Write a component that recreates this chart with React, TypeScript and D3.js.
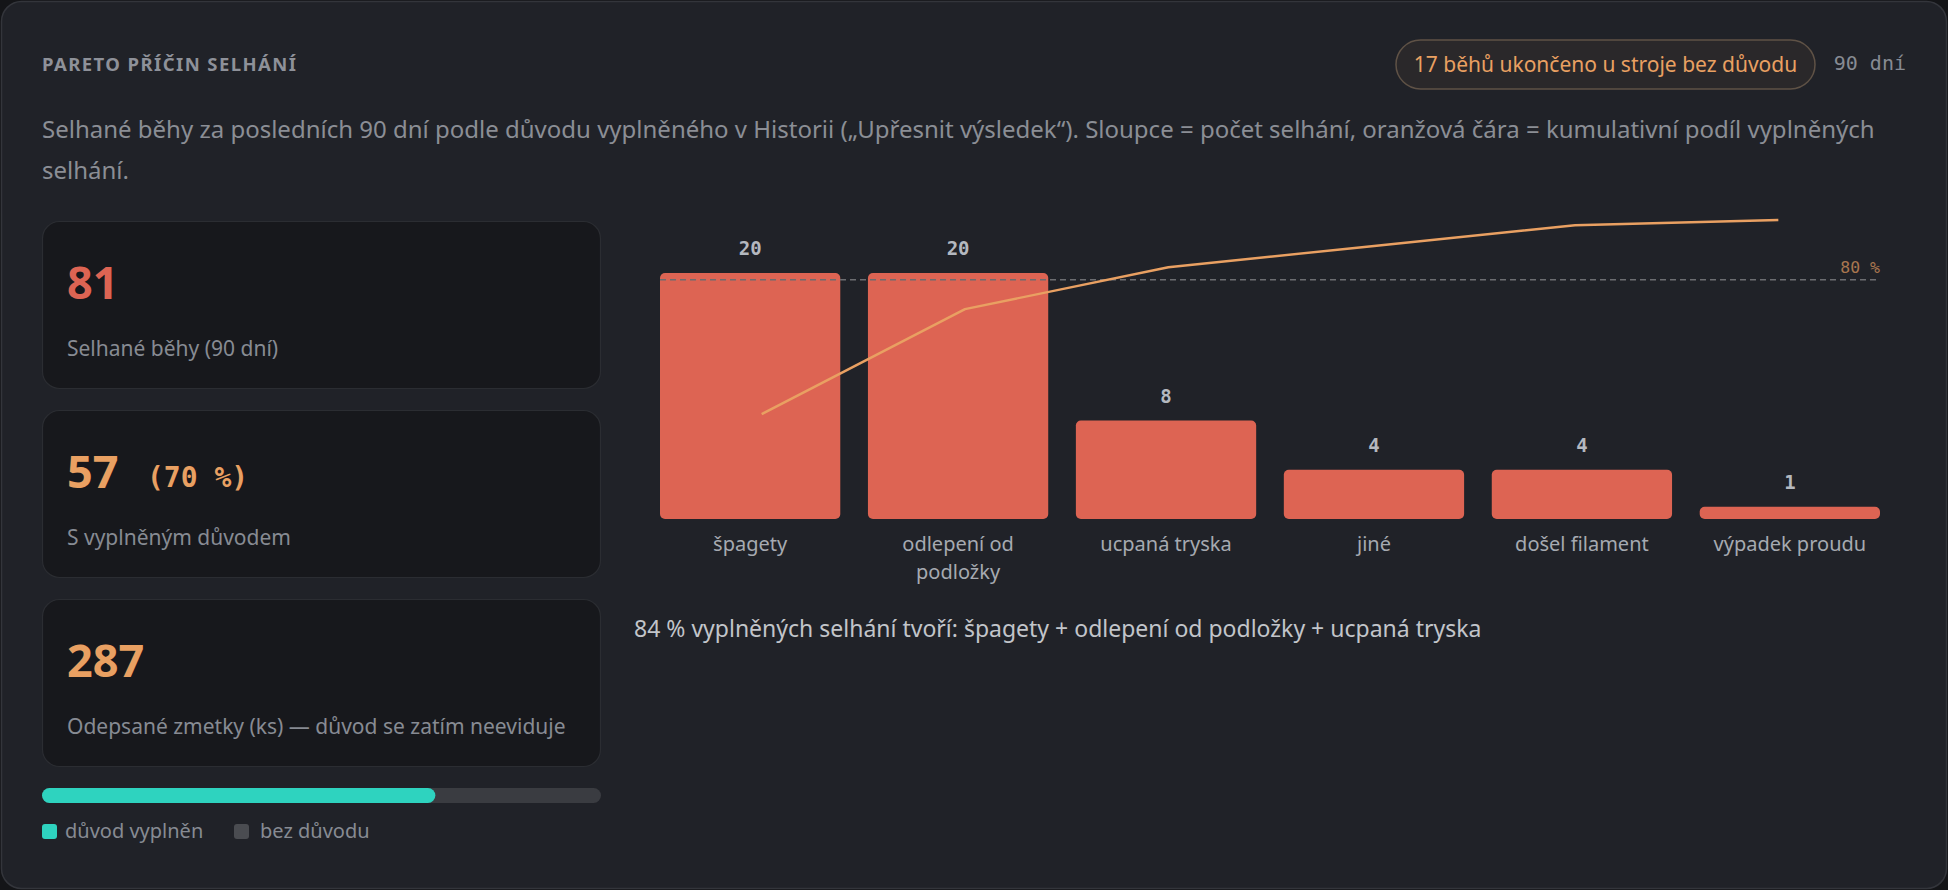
import React from 'react';
import * as d3 from 'd3';

// ---- data ----
const categories = ['špagety', 'odlepení od podložky', 'ucpaná tryska', 'jiné', 'došel filament', 'výpadek proudu'];
const failureCounts = [20, 20, 8, 4, 4, 1];
const failedRuns = 81;
const withReason = 57;
const scrapPieces = 287;
const unexplainedRuns = 17;
const periodDays = 90;
const thresholdShare = 0.8;

const W = 1948;
const H = 890;
const SANS = '"Noto Sans", "DejaVu Sans", sans-serif';
const MONO = '"DejaVu Sans Mono", "Liberation Mono", monospace';

const C = {
  page: '#141518',
  panel: '#202228',
  panelStroke: '#33353b',
  card: '#17181c',
  cardStroke: '#2b2d32',
  title: '#8e9199',
  desc: '#8b8e95',
  label: '#878b93',
  bar: '#dd6453',
  line: '#e9a062',
  valueLbl: '#b4b8bf',
  catLbl: '#a6aab1',
  summary: '#c2c5ca',
  dash: '#6c6d71',
  thr: '#a9764f',
  teal: '#2ed3bf',
  track: '#3a3c41',
  grayKey: '#4a4c51',
};

let measureCtx: CanvasRenderingContext2D | null = null;
function textWidth(t: string, font: string) {
  if (!measureCtx) measureCtx = document.createElement('canvas').getContext('2d');
  if (!measureCtx) return t.length * 9;
  measureCtx.font = font;
  return measureCtx.measureText(t).width;
}
function wrap(t: string, maxW: number, font: string) {
  const words = t.split(' ');
  const lines: string[] = [];
  let cur = '';
  for (const w of words) {
    const test = cur ? cur + ' ' + w : w;
    if (textWidth(test, font) > maxW && cur) {
      lines.push(cur);
      cur = w;
    } else cur = test;
  }
  if (cur) lines.push(cur);
  return lines;
}

export default function App() {
  const total = d3.sum(failureCounts);
  const cum = d3.cumsum(failureCounts).map((v) => v / total);

  // chart geometry
  const x0 = 660, x1 = 1880;
  const yBase = 519;
  const xBand = d3.scaleBand<string>().domain(categories).range([x0, x1]).paddingInner(0.133).paddingOuter(0);
  const xPt = d3.scalePoint<string>().domain(categories).range([x0, x1]).padding(0.5);
  const yBar = d3.scaleLinear().domain([0, d3.max(failureCounts) as number]).range([yBase, 273]);
  const yPct = d3.scaleLinear().domain([0, 1]).range([yBase, 220]);

  const linePath = d3
    .line<number>()
    .x((_, i) => xPt(categories[i]) as number)
    .y((d) => yPct(d))(cum) as string;

  const topIdx = cum.findIndex((c) => c >= thresholdShare);
  const topCats = categories.slice(0, topIdx + 1);
  const topShare = Math.round(cum[topIdx] * 100);

  const catFont = `20px ${SANS}`;

  const cards = [
    { y: 221, value: String(failedRuns), extra: '', color: C.bar, label: `Selhané běhy (${periodDays} dní)` },
    { y: 410, value: String(withReason), extra: `(${Math.round((withReason / failedRuns) * 100)} %)`, color: C.line, label: 'S vyplněným důvodem' },
    { y: 599, value: String(scrapPieces), extra: '', color: C.line, label: 'Odepsané zmetky (ks) — důvod se zatím neeviduje' },
  ];

  const progX = d3.scaleLinear().domain([0, failedRuns]).range([42, 601]);

  return (
    <svg width={W} height={H} style={{ position: 'absolute', left: 0, top: 0, display: 'block' }}>
      <rect x={0} y={0} width={W} height={H} fill={C.page} />
      <rect x={1.5} y={1.5} width={W - 3} height={H - 3} rx={20} fill={C.panel} stroke={C.panelStroke} strokeWidth={1.5} />

      {/* header */}
      <text x={42} y={70.5} fill={C.title} fontFamily={SANS} fontWeight={700} fontSize={18.5} textLength={254} lengthAdjust="spacing">
        PARETO PŘÍČIN SELHÁNÍ
      </text>
      <rect x={1396} y={40} width={419} height={49} rx={24.5} fill="rgba(233,160,98,0.05)" stroke="#5f5246" strokeWidth={1.5} />
      <text x={1605.5} y={72} textAnchor="middle" fill={C.line} fontFamily={SANS} fontSize={21}>
        {`${unexplainedRuns} běhů ukončeno u stroje bez důvodu`}
      </text>
      <text x={1906} y={70} textAnchor="end" fill={C.label} fontFamily={MONO} fontSize={20}>
        {`${periodDays} dní`}
      </text>

      <text fill={C.desc} fontFamily={SANS} fontSize={24}>
        <tspan x={42} y={138}>
          Selhané běhy za posledních 90 dní podle důvodu vyplněného v Historii („Upřesnit výsledek“). Sloupce = počet selhání, oranžová čára = kumulativní podíl vyplněných
        </tspan>
        <tspan x={42} y={179}>selhání.</tspan>
      </text>

      {/* KPI cards */}
      {cards.map((c, i) => (
        <g key={i}>
          <rect x={42.5} y={c.y + 0.5} width={558} height={167} rx={17} fill={C.card} stroke={C.cardStroke} strokeWidth={1.2} />
          <text x={67} y={c.y + 78} fill={c.color} fontFamily={SANS} fontWeight={700} fontSize={45}>
            {c.value}
          </text>
          {c.extra && (
            <text x={147} y={c.y + 77} fill={c.color} fontFamily={MONO} fontWeight={700} fontSize={28}>
              {c.extra}
            </text>
          )}
          <text x={67} y={c.y + 135} fill={C.label} fontFamily={SANS} fontSize={21}>
            {c.label}
          </text>
        </g>
      ))}

      {/* coverage bar */}
      <rect x={42} y={788} width={559} height={15} rx={7.5} fill={C.track} />
      <rect x={42} y={788} width={progX(withReason) - 42} height={15} rx={7.5} fill={C.teal} />
      <rect x={42} y={824} width={15} height={15} rx={3} fill={C.teal} />
      <text x={65} y={838} fill={C.label} fontFamily={SANS} fontSize={20}>důvod vyplněn</text>
      <rect x={234} y={824} width={15} height={15} rx={3} fill={C.grayKey} />
      <text x={260} y={838} fill={C.label} fontFamily={SANS} fontSize={20}>bez důvodu</text>

      {/* bars */}
      {categories.map((cat, i) => {
        const v = failureCounts[i];
        const bx = xBand(cat) as number;
        const top = yBar(v);
        const lines = wrap(cat, xBand.bandwidth() - 10, catFont);
        return (
          <g key={cat}>
            <rect x={bx} y={top} width={xBand.bandwidth()} height={yBase - top} rx={5} fill={C.bar} />
            <text x={bx + xBand.bandwidth() / 2} y={top - 18} textAnchor="middle" fill={C.valueLbl} fontFamily={MONO} fontWeight={700} fontSize={19}>
              {v}
            </text>
            <text textAnchor="middle" fill={C.catLbl} fontFamily={SANS} fontSize={20}>
              {lines.map((l, k) => (
                <tspan key={k} x={bx + xBand.bandwidth() / 2} y={551 + k * 28}>
                  {l}
                </tspan>
              ))}
            </text>
          </g>
        );
      })}

      {/* 80 % threshold */}
      <line x1={x0} x2={x1} y1={yPct(thresholdShare)} y2={yPct(thresholdShare)} stroke={C.dash} strokeWidth={1.5} strokeDasharray="6 4" />
      <text x={x1} y={yPct(thresholdShare) - 7} textAnchor="end" fill={C.thr} fontFamily={MONO} fontSize={16.5}>
        80 %
      </text>

      {/* cumulative line */}
      <path d={linePath} fill="none" stroke={C.line} strokeWidth={2.4} strokeLinejoin="round" />

      {/* summary */}
      <text x={634} y={637} fill={C.summary} fontFamily={SANS} fontSize={23}>
        {`${topShare} % vyplněných selhání tvoří: ${topCats.join(' + ')}`}
      </text>
    </svg>
  );
}
